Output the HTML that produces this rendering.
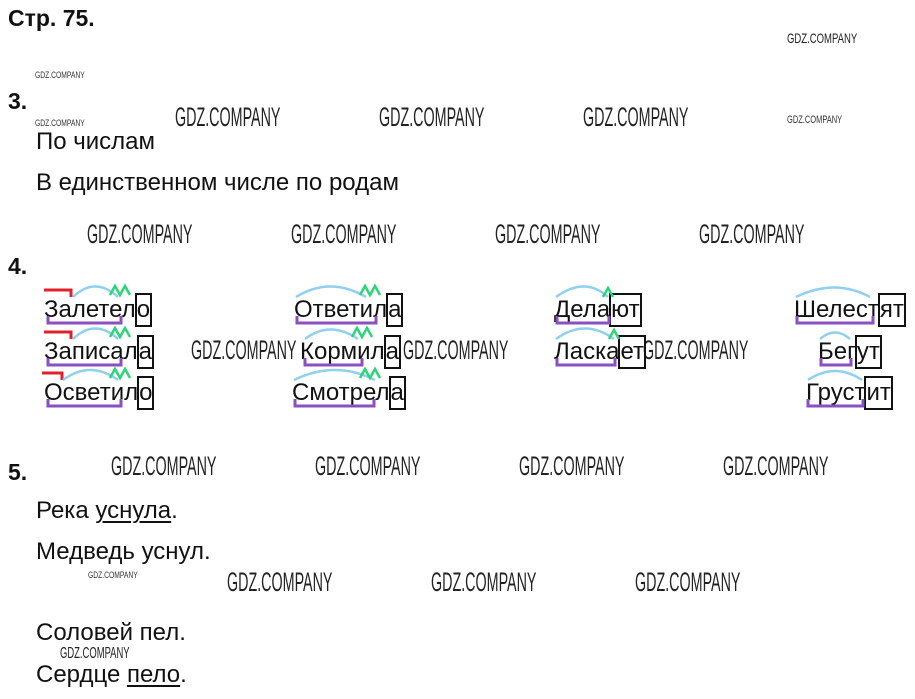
<!DOCTYPE html>
<html><head><meta charset="utf-8"><style>
body{margin:0;width:915px;height:699px;background:#fff;position:relative;overflow:hidden;font-family:"Liberation Sans",sans-serif;color:#111}
.t{position:absolute;font-size:24px;line-height:1;white-space:nowrap}
.b{font-weight:bold;font-size:23px}
.w{position:absolute;font-size:27px;line-height:1;white-space:nowrap;transform:scaleX(0.53);transform-origin:0 0;color:#222}
.ws{position:absolute;font-size:9px;line-height:1;white-space:nowrap;transform:scaleX(0.75);transform-origin:0 0;color:#333}
.wd{position:absolute;font-size:24px;line-height:1;white-space:nowrap;color:#111}
.e{display:inline-block;border:2px solid #111;line-height:30px;height:30px;vertical-align:baseline;padding:0;margin-left:-1px}
svg{position:absolute;left:0;top:0}
u{text-decoration-thickness:2px;text-underline-offset:3px}
</style></head><body>
<div class="t b" style="left:8px;top:7px">Стр. 75.</div>
<div class="t b" style="left:8px;top:90px">3.</div>
<div class="t b" style="left:8px;top:255px">4.</div>
<div class="t b" style="left:8px;top:461px">5.</div>

<div class="t" style="left:36px;top:130px">По числам</div>
<div class="t" style="left:36px;top:171px">В единственном числе по родам</div>

<div class="t" style="left:36px;top:499px">Река <u>уснула</u>.</div>
<div class="t" style="left:36px;top:540px">Медведь уснул.</div>
<div class="t" style="left:36px;top:621px">Соловей пел.</div>
<div class="t" style="left:36px;top:663px">Сердце <u>пело</u>.</div>

<div class="w" style="left:175px;top:104px">GDZ.COMPANY</div>
<div class="w" style="left:379px;top:104px">GDZ.COMPANY</div>
<div class="w" style="left:583px;top:104px">GDZ.COMPANY</div>
<div class="w" style="left:87px;top:221px">GDZ.COMPANY</div>
<div class="w" style="left:291px;top:221px">GDZ.COMPANY</div>
<div class="w" style="left:495px;top:221px">GDZ.COMPANY</div>
<div class="w" style="left:699px;top:221px">GDZ.COMPANY</div>
<div class="w" style="left:191px;top:337px">GDZ.COMPANY</div>
<div class="w" style="left:403px;top:337px">GDZ.COMPANY</div>
<div class="w" style="left:643px;top:337px">GDZ.COMPANY</div>
<div class="w" style="left:111px;top:453px">GDZ.COMPANY</div>
<div class="w" style="left:315px;top:453px">GDZ.COMPANY</div>
<div class="w" style="left:519px;top:453px">GDZ.COMPANY</div>
<div class="w" style="left:723px;top:453px">GDZ.COMPANY</div>
<div class="w" style="left:227px;top:569px">GDZ.COMPANY</div>
<div class="w" style="left:431px;top:569px">GDZ.COMPANY</div>
<div class="w" style="left:635px;top:569px">GDZ.COMPANY</div>
<div class="w" style="left:787px;top:31px;font-size:14px;transform:scaleX(0.68)">GDZ.COMPANY</div>
<div class="ws" style="left:35px;top:71px">GDZ.COMPANY</div>
<div class="ws" style="left:35px;top:119px">GDZ.COMPANY</div>
<div class="ws" style="left:787px;top:115px;font-size:11px;transform:scaleX(0.68)">GDZ.COMPANY</div>
<div class="ws" style="left:88px;top:571px">GDZ.COMPANY</div>
<div class="w" style="left:60px;top:646px;font-size:16px;transform:scaleX(0.59)">GDZ.COMPANY</div>

<div class="wd" style="left:44px;top:293px">Залетел<span class="e">о</span></div>
<div class="wd" style="left:44px;top:335px">Записал<span class="e">а</span></div>
<div class="wd" style="left:44px;top:376px">Осветил<span class="e">о</span></div>
<div class="wd" style="left:294px;top:293px">Ответил<span class="e">а</span></div>
<div class="wd" style="left:300px;top:335px">Кормил<span class="e">а</span></div>
<div class="wd" style="left:292px;top:376px">Смотрел<span class="e">а</span></div>
<div class="wd" style="left:554px;top:293px">Дела<span class="e">ют</span></div>
<div class="wd" style="left:554px;top:335px">Ласка<span class="e">ет</span></div>
<div class="wd" style="left:794px;top:293px">Шелест<span class="e">ят</span></div>
<div class="wd" style="left:818px;top:335px">Бег<span class="e">ут</span></div>
<div class="wd" style="left:806px;top:376px">Груст<span class="e">ит</span></div>

<svg width="915" height="699" fill="none" stroke-width="3">
<g stroke="#e0202a"><path d="M44 290H71V297"/><path d="M44 332H71V339"/><path d="M42 373H62V380"/></g>
<g stroke="#8fd0ee" stroke-width="2.5">
<path d="M73 297Q95 276 118 297"/><path d="M73 339Q95 318 118 339"/><path d="M63 380Q90 360 118 380"/>
<path d="M296 297Q330 276 366 297"/><path d="M305 339Q330 320 358 339"/><path d="M294 380Q335 360 375 380"/>
<path d="M556 297Q585 276 608 297"/><path d="M556 339Q585 318 614 339"/>
<path d="M796 297Q835 278 870 297"/><path d="M820 339Q835 326 850 339"/><path d="M808 380Q835 362 862 380"/>
</g>
<g stroke="#2ed47a" stroke-width="2.5">
<path d="M110 295l5-9 5 9 5-9 5 9"/><path d="M110 337l5-9 5 9 5-9 5 9"/><path d="M110 378l5-9 5 9 5-9 5 9"/>
<path d="M360 295l5-9 5 9 5-9 5 9"/><path d="M352 337l5-9 5 9 5-9 5 9"/><path d="M360 378l5-9 5 9 5-9 5 9"/>
<path d="M603 297l5-9 5 9"/><path d="M609 339l5-9 5 9"/>
</g>
<g stroke="#8a4fc0">
<path d="M48 316V323H121V316"/><path d="M48 358V365H121V358"/><path d="M48 399V406H121V399"/>
<path d="M297 316V323H376V316"/><path d="M305 358V365H362V358"/><path d="M295 399V406H374V399"/>
<path d="M557 316V323H609V316"/><path d="M557 358V365H615V358"/>
<path d="M797 316V323H873V316"/><path d="M821 358V365H851V358"/><path d="M808 399V406H863V399"/>
</g>
</svg>
</body></html>
